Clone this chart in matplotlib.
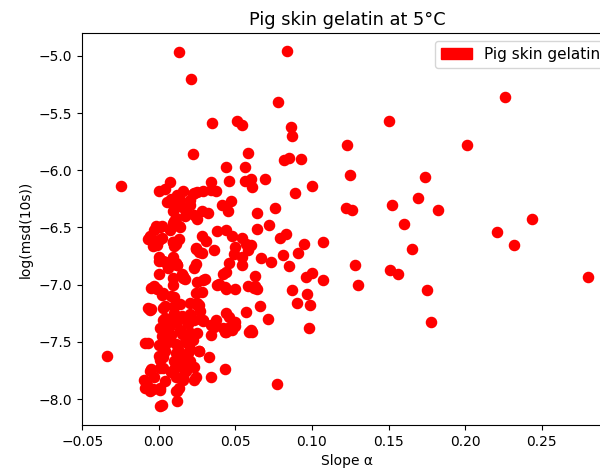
import numpy as np
import matplotlib.pyplot as plt
import matplotlib.patches as mpatches

# slope alpha vs log(msd at 10 s), one point per tracked particle
slope = [
    0.013, 0.084, 0.021, 0.078, 0.035, 0.051, 0.054, 0.086, 0.087, 0.123,
    0.150, 0.226, 0.201, 0.082, 0.085, 0.093, 0.125, 0.174, 0.169, 0.069,
    0.060, 0.061, 0.089, 0.100, 0.058, 0.064, 0.076, 0.122, 0.126, 0.152,
    0.182, 0.160, 0.221, 0.244, 0.232, 0.280, 0.064, 0.072, 0.079, 0.083,
    0.095, 0.107, 0.060, 0.091, 0.081, 0.067, 0.073, 0.085, 0.128, 0.165,
    0.151, 0.156, 0.063, 0.096, 0.100, 0.107, 0.063, 0.064, 0.130, 0.175,
    0.087, 0.097, 0.090, 0.099, 0.066, 0.178, 0.071, 0.098, 0.061, 0.077,
    -0.025, -0.034,
    0.022, 0.044, 0.056, 0.046, 0.056, 0.059, 0.007, 0.034, 0.000, 0.004,
    0.016, 0.023, 0.029, 0.034, 0.037, 0.005, 0.014, 0.020, 0.041, 0.047,
    0.045, 0.032, 0.009, 0.017, 0.023, 0.028, 0.010, 0.025, 0.001, -0.003,
    -0.006, 0.007, 0.014, 0.038, 0.044, 0.048, 0.054, 0.058, 0.028, 0.031,
    0.002, 0.009, 0.013, -0.004, -0.001, 0.010, 0.024, 0.028, 0.036, 0.049,
    0.054, 0.000, 0.004, 0.008, 0.011, 0.006, 0.012, 0.023, 0.046, 0.044,
    0.042, 0.054, 0.000, 0.009, 0.016, 0.017, 0.030, 0.025, 0.028, 0.039,
    0.044, 0.050, 0.058, 0.062, -0.005, -0.001, 0.009, 0.002, 0.010, -0.005,
    -0.006, 0.004, 0.010, 0.014, 0.026, 0.044, 0.046, 0.057, 0.034, 0.036,
    0.042, 0.049, 0.060, 0.004, 0.010, 0.017, 0.023, 0.029, 0.001, 0.006,
    0.014, 0.020, 0.025, -0.007, 0.002, 0.008, 0.015, 0.020, 0.034, 0.043,
    0.048, 0.000, 0.006, 0.017, 0.022, 0.004, 0.013, 0.019, 0.026, 0.033,
    0.001, 0.010, 0.017, 0.021, -0.005, 0.001, 0.010, 0.016, 0.043, -0.010,
    -0.003, 0.004, 0.011, 0.016, 0.023, 0.034, -0.009, -0.006, 0.001, 0.011,
    0.013, 0.012, 0.001,
    0.022, 0.025, 0.011, -0.002, 0.002, -0.006, 0.009, 0.013, -0.007, 0.000,
    0.009, 0.011, 0.024, 0.000, 0.003, 0.009, 0.010, 0.012, 0.024, 0.015,
    0.016, -0.003, 0.003, 0.008, 0.024, 0.025, 0.020, -0.007, 0.003, 0.010,
    0.015, 0.020, 0.027, 0.005, 0.012, 0.019, 0.007, 0.003, -0.009, 0.011,
    0.020, 0.011, 0.014, 0.000, 0.003, 0.020, 0.023, -0.006, 0.003, 0.008,
    0.013, 0.018, 0.016, 0.024, -0.008, -0.004, 0.001, 0.012, 0.002, 0.026,
    0.035, 0.045, 0.050, 0.044, 0.059,
    0.010, 0.015, 0.012, 0.018, 0.008, 0.020, 0.050, 0.057, 0.058, 0.026,
    0.029, 0.038, 0.043, 0.025, 0.027, 0.029, 0.037, 0.050,
]
log_msd = [
    -4.97, -4.96, -5.20, -5.40, -5.59, -5.57, -5.60, -5.62, -5.70, -5.78,
    -5.57, -5.36, -5.78, -5.91, -5.89, -5.90, -6.04, -6.06, -6.24, -6.08,
    -6.08, -6.15, -6.20, -6.14, -5.85, -6.37, -6.33, -6.33, -6.35, -6.30,
    -6.35, -6.47, -6.54, -6.43, -6.65, -6.93, -6.51, -6.48, -6.59, -6.56,
    -6.64, -6.63, -6.65, -6.72, -6.74, -6.77, -6.80, -6.84, -6.83, -6.69,
    -6.87, -6.91, -6.92, -6.93, -6.90, -6.96, -7.01, -7.04, -7.00, -7.05,
    -7.05, -7.08, -7.16, -7.18, -7.19, -7.33, -7.30, -7.38, -7.41, -7.87,
    -6.14, -7.62,
    -5.86, -5.97, -5.97, -6.09, -6.09, -6.09, -6.10, -6.10, -6.18, -6.16,
    -6.18, -6.20, -6.18, -6.17, -6.18, -6.28, -6.26, -6.26, -6.30, -6.27,
    -6.36, -6.37, -6.36, -6.40, -6.39, -6.36, -6.44, -6.43, -6.50, -6.52,
    -6.58, -6.52, -6.50, -6.53, -6.52, -6.57, -6.59, -6.65, -6.57, -6.62,
    -6.59, -6.63, -6.60, -6.66, -6.65, -6.66, -6.69, -6.72, -6.70, -6.73,
    -6.76, -6.79, -6.80, -6.79, -6.81, -6.85, -6.83, -6.85, -6.81, -6.89,
    -6.91, -6.83, -6.91, -6.94, -6.92, -6.95, -6.95, -6.98, -7.06, -6.99,
    -7.04, -7.04, -7.01, -7.03, -7.03, -7.04, -7.00, -7.09, -7.11, -7.21,
    -7.22, -7.19, -7.19, -7.17, -7.18, -7.25, -7.28, -7.24, -7.35, -7.37,
    -7.38, -7.36, -7.40, -7.29, -7.29, -7.29, -7.31, -7.31, -7.38, -7.41,
    -7.40, -7.42, -7.42, -7.51, -7.45, -7.44, -7.43, -7.42, -7.44, -7.41,
    -7.40, -7.53, -7.50, -7.50, -7.48, -7.58, -7.58, -7.60, -7.58, -7.63,
    -7.66, -7.67, -7.64, -7.71, -7.74, -7.73, -7.74, -7.73, -7.74, -7.83,
    -7.81, -7.84, -7.81, -7.81, -7.83, -7.81, -7.90, -7.93, -7.92, -7.93,
    -7.90, -8.02, -8.06,
    -6.21, -6.19, -6.42, -6.49, -6.49, -6.57, -6.46, -6.49, -6.60, -6.61,
    -6.63, -6.64, -6.68, -6.76, -6.79, -6.76, -6.82, -6.83, -6.82, -6.91,
    -6.94, -7.01, -7.07, -7.10, -7.07, -7.16, -7.16, -7.20, -7.20, -7.25,
    -7.27, -7.26, -7.30, -7.33, -7.33, -7.34, -7.36, -7.31, -7.51, -7.52,
    -7.56, -7.60, -7.62, -7.62, -7.63, -7.67, -7.72, -7.75, -7.73, -7.76,
    -7.71, -7.75, -7.83, -7.81, -7.88, -7.91, -7.90, -7.93, -8.05, -7.58,
    -7.35, -7.38, -7.36, -7.41, -7.41,
    -6.30, -6.32, -6.22, -6.34, -6.25, -6.30, -6.67, -6.64, -6.70, -6.71,
    -6.96, -7.00, -7.02, -7.18, -7.23, -7.32, -7.31, -7.33,
]

fig = plt.figure(figsize=(6.0, 4.73), dpi=100)
# axes run past the right edge of the canvas, so the legend frame is clipped
ax = fig.add_axes([0.1367, 0.1015, 0.8827, 0.8288])

ax.plot(slope, log_msd, 'o', color='red', markersize=7.3)

red_patch = mpatches.Patch(color='red', label='Pig skin gelatin')
ax.legend(handles=[red_patch], loc='upper right', bbox_to_anchor=(1.004, 1.0),
          fontsize=11)

ax.set_title("Pig skin gelatin at 5°C", fontsize=12.8)
ax.set_xlabel("Slope α")
ax.set_ylabel("log(msd(10s))")
ax.set_xlim(-0.0502, 0.2957)
ax.set_ylim(-8.226, -4.80)

plt.savefig("out.png", dpi=100)
